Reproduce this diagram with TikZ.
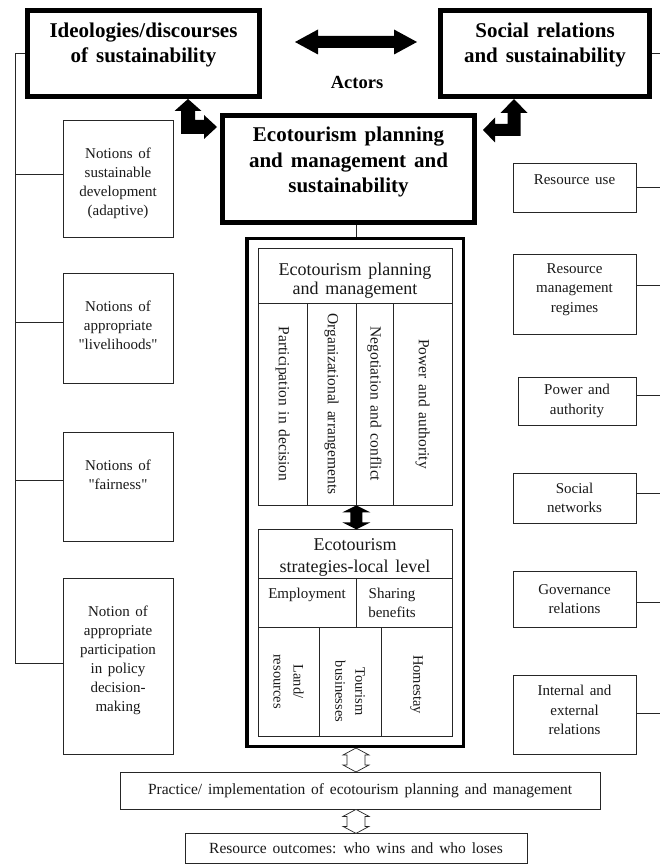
\documentclass[tikz,border=0pt]{standalone}
\usepackage{fontspec}
\setmainfont{Liberation Serif}[WordSpace=1.5, Ligatures=TeXOff]
\usetikzlibrary{calc}
\begin{document}
\begin{tikzpicture}[x=1pt,y=-1pt,
  bigbox/.style={draw=black, line width=5pt, inner sep=0pt},
  tallbox/.style={draw=black, line width=3.5pt, inner sep=0pt},
  thinbox/.style={draw=black!85, line width=0.8pt, inner sep=0pt},
  bigtext/.style={font=\fontsize{21}{25.5}\selectfont\bfseries, align=center, inner sep=0pt},
  ttext/.style={font=\fontsize{15}{19}\selectfont, align=center, inner sep=0pt, text=black!90},
  rtext/.style={font=\fontsize{15}{19.5}\selectfont, align=center, inner sep=0pt, text=black!90},
  hdtext/.style={font=\fontsize{18}{19}\selectfont, align=center, inner sep=0pt, text=black!90},
  coltext/.style={font=\fontsize{15.5}{18}\selectfont, inner sep=0pt, rotate=-90, text=black!90},
  smalltext/.style={font=\fontsize{14.5}{20}\selectfont, align=center, inner sep=0pt, rotate=-90, text=black!90},
  rowtext/.style={font=\fontsize{15}{19}\selectfont, align=center, inner sep=0pt, text=black!90},
  conn/.style={draw=black!85, line width=0.8pt},
  hollow/.style={draw=black!85, line width=0.7pt, fill=white, line join=miter}]

\fill[white] (0,0) rectangle (659,866);
\useasboundingbox (0,0) rectangle (659,866);

% main boxes
\node[bigbox, minimum width=232pt, minimum height=86pt,
  label={[bigtext, yshift=8.5pt]center:Ideologies/discourses\\of sustainability}] (ideo) at (143.5,53.5) {};
\node[bigbox, minimum width=209pt, minimum height=86pt,
  label={[bigtext, yshift=8.5pt]center:Social relations\\and sustainability}] (soc) at (545,53.5) {};
\node[bigtext, font=\fontsize{18.5}{20}\selectfont\bfseries] (actors) at (357,82) {Actors};
\node[bigbox, minimum width=252pt, minimum height=107pt,
  label={[bigtext, yshift=7pt]center:Ecotourism planning\\and management and\\sustainability}] (eco) at (348.5,169) {};

% tall box
\node[tallbox, minimum width=216.5pt, minimum height=507.5pt] (tall) at (355,492.5) {};

\node[thinbox, minimum width=194pt, minimum height=55pt,
  label={[hdtext, yshift=-5.5pt]center:Ecotourism planning\\and management}] (hd1) at (355,275.5) {};
\node[thinbox, minimum width=49pt, minimum height=202pt,
  label={[coltext]center:Participation in decision}] (c1) at (282.5,404) {};
\node[thinbox, minimum width=49pt, minimum height=202pt,
  label={[coltext]center:Organizational arrangements}] (c2) at (331.5,404) {};
\node[thinbox, minimum width=37pt, minimum height=202pt,
  label={[coltext]center:Negotiation and conflict}] (c3) at (374.5,404) {};
\node[thinbox, minimum width=59pt, minimum height=202pt,
  label={[coltext]center:Power and authority}] (c4) at (422.5,404) {};

\node[thinbox, minimum width=194pt, minimum height=49pt,
  label={[hdtext, font=\fontsize{18}{21.5}\selectfont, yshift=-4pt]center:Ecotourism\\strategies-local level}] (hd2) at (355,553.5) {};
\node[thinbox, minimum width=98pt, minimum height=49pt,
  label={[rowtext, yshift=7.5pt]center:Employment}] (emp) at (307,602.5) {};
\node[thinbox, minimum width=96pt, minimum height=49pt,
  label={[rowtext, xshift=-12pt]center:Sharing\\benefits}] (share) at (404,602.5) {};
\node[thinbox, minimum width=61pt, minimum height=109pt,
  label={[smalltext]center:Land/\\resources}] (b1) at (288.5,681.5) {};
\node[thinbox, minimum width=62pt, minimum height=109pt,
  label={[smalltext, xshift=10pt]center:Tourism\\businesses}] (b2) at (350,681.5) {};
\node[thinbox, minimum width=71pt, minimum height=109pt,
  label={[smalltext, xshift=3pt]center:Homestay}] (b3) at (416.5,681.5) {};

% bottom boxes
\node[thinbox, minimum width=480pt, minimum height=37pt, font=\fontsize{15.5}{18}\selectfont, text=black!90] (prac) at (360,790.5) {Practice/ implementation of ecotourism planning and management};
\node[thinbox, minimum width=342pt, minimum height=30pt, font=\fontsize{15.5}{18}\selectfont, text=black!90] (res) at (356,848) {Resource outcomes: who wins and who loses};

% left boxes
\node[thinbox, minimum width=110pt, minimum height=117pt,
  label={[ttext, yshift=-5pt]center:Notions of\\sustainable\\development\\(adaptive)}] (n1) at (118,178.5) {};
\node[thinbox, minimum width=110pt, minimum height=110pt,
  label={[ttext, yshift=2.5pt]center:Notions of\\appropriate\\"livelihoods"}] (n2) at (118,328) {};
\node[thinbox, minimum width=110pt, minimum height=109pt,
  label={[ttext, yshift=11.5pt]center:Notions of\\"fairness"}] (n3) at (118,486.5) {};
\node[thinbox, minimum width=110pt, minimum height=176pt,
  label={[ttext, yshift=6pt]center:Notion of\\appropriate\\participation\\in policy\\decision-\\making}] (n4) at (118,666) {};

% right boxes
\node[thinbox, minimum width=123pt, minimum height=49pt,
  label={[rtext, yshift=7.5pt]center:Resource use}] (r1) at (574.5,187.5) {};
\node[thinbox, minimum width=123pt, minimum height=80pt,
  label={[rtext, yshift=4.5pt]center:Resource\\management\\regimes}] (r2) at (574.5,294) {};
\node[thinbox, minimum width=118pt, minimum height=48pt,
  label={[rtext]center:Power and\\authority}] (r3) at (577,401) {};
\node[thinbox, minimum width=123pt, minimum height=50pt,
  label={[rtext]center:Social\\networks}] (r4) at (574.5,498) {};
\node[thinbox, minimum width=123pt, minimum height=56pt,
  label={[rtext]center:Governance\\relations}] (r5) at (574.5,599) {};
\node[thinbox, minimum width=123pt, minimum height=79pt,
  label={[rtext, yshift=4.5pt]center:Internal and\\external\\relations}] (r6) at (574.5,714.5) {};

% fat arrows
\coordinate (aL) at (188,127);
\coordinate (aR) at (514,132);
\fill[black] (ideo.south -| aL) -- ++(13.5,12) -- ++(-6.5,0) -- ++(0,9) -- ++(9,0) -- ++(0,-5)
  -- ++(13,12) -- ++(-13,12) -- ++(0,-5) -- ++(-23,0) -- ++(0,-23) -- ++(-6.5,0) -- cycle;
\fill[black] (soc.south -| aR) -- ++(13.5,14) -- ++(-7,0) -- ++(0,23) -- ++(-25.5,0) -- ++(0,6.5)
  -- ++(-12,-12.5) -- ++(12,-12.5) -- ++(0,6.5) -- ++(12.5,0) -- ++(0,-11) -- ++(-7,0) -- cycle;
\fill[black] ([xshift=33pt,yshift=11.5pt]ideo.east) -- ++(23,-12.5) -- ++(0,6.5) -- ++(76,0) -- ++(0,-6.5)
  -- ++(23,12.5) -- ++(-23,12.5) -- ++(0,-6.5) -- ++(-76,0) -- ++(0,6.5) -- cycle;
\fill[black] (c2.south east) -- ++(14,7) -- ++(-8,0) -- ++(0,10) -- ++(8,0) -- ++(-14,7)
  -- ++(-14,-7) -- ++(8,0) -- ++(0,-10) -- ++(-8,0) -- cycle;

% hollow arrows
\draw[hollow] (tall.south -| res.north) -- ++(13,7) -- ++(-4,0) -- ++(0,10) -- ++(4,0) -- ++(-13,7)
  -- ++(-13,-7) -- ++(4,0) -- ++(0,-10) -- ++(-4,0) -- cycle;
\draw[hollow] (prac.south -| res.north) -- ++(13,7) -- ++(-4,0) -- ++(0,10) -- ++(4,0) -- ++(-13,7)
  -- ++(-13,-7) -- ++(4,0) -- ++(0,-10) -- ++(-4,0) -- cycle;

% connectors
\coordinate (lx) at (15,0);
\draw[conn] (eco.south -| c2.south east) -- (tall.north -| c2.south east);
\draw[conn] ([yshift=3pt]n4.west) -| (ideo.west -| lx) -- (ideo.west);
\draw[conn] ([yshift=4pt]n1.west) -- +(-48,0);
\draw[conn] ([yshift=6pt]n2.west) -- +(-48,0);
\draw[conn] ([yshift=6.5pt]n3.west) -- +(-48,0);

\draw[conn] (soc.east) -- +(10,0);
\draw[conn] (r1.east) -- +(25,0);
\draw[conn] ([yshift=9pt]r2.east) -- +(25,0);
\draw[conn] ([yshift=6pt]r3.east) -- +(25,0);
\draw[conn] ([yshift=5pt]r4.east) -- +(25,0);
\draw[conn] ([yshift=-3pt]r5.east) -- +(25,0);
\draw[conn] ([yshift=1.5pt]r6.east) -- +(25,0);
\end{tikzpicture}
\end{document}
